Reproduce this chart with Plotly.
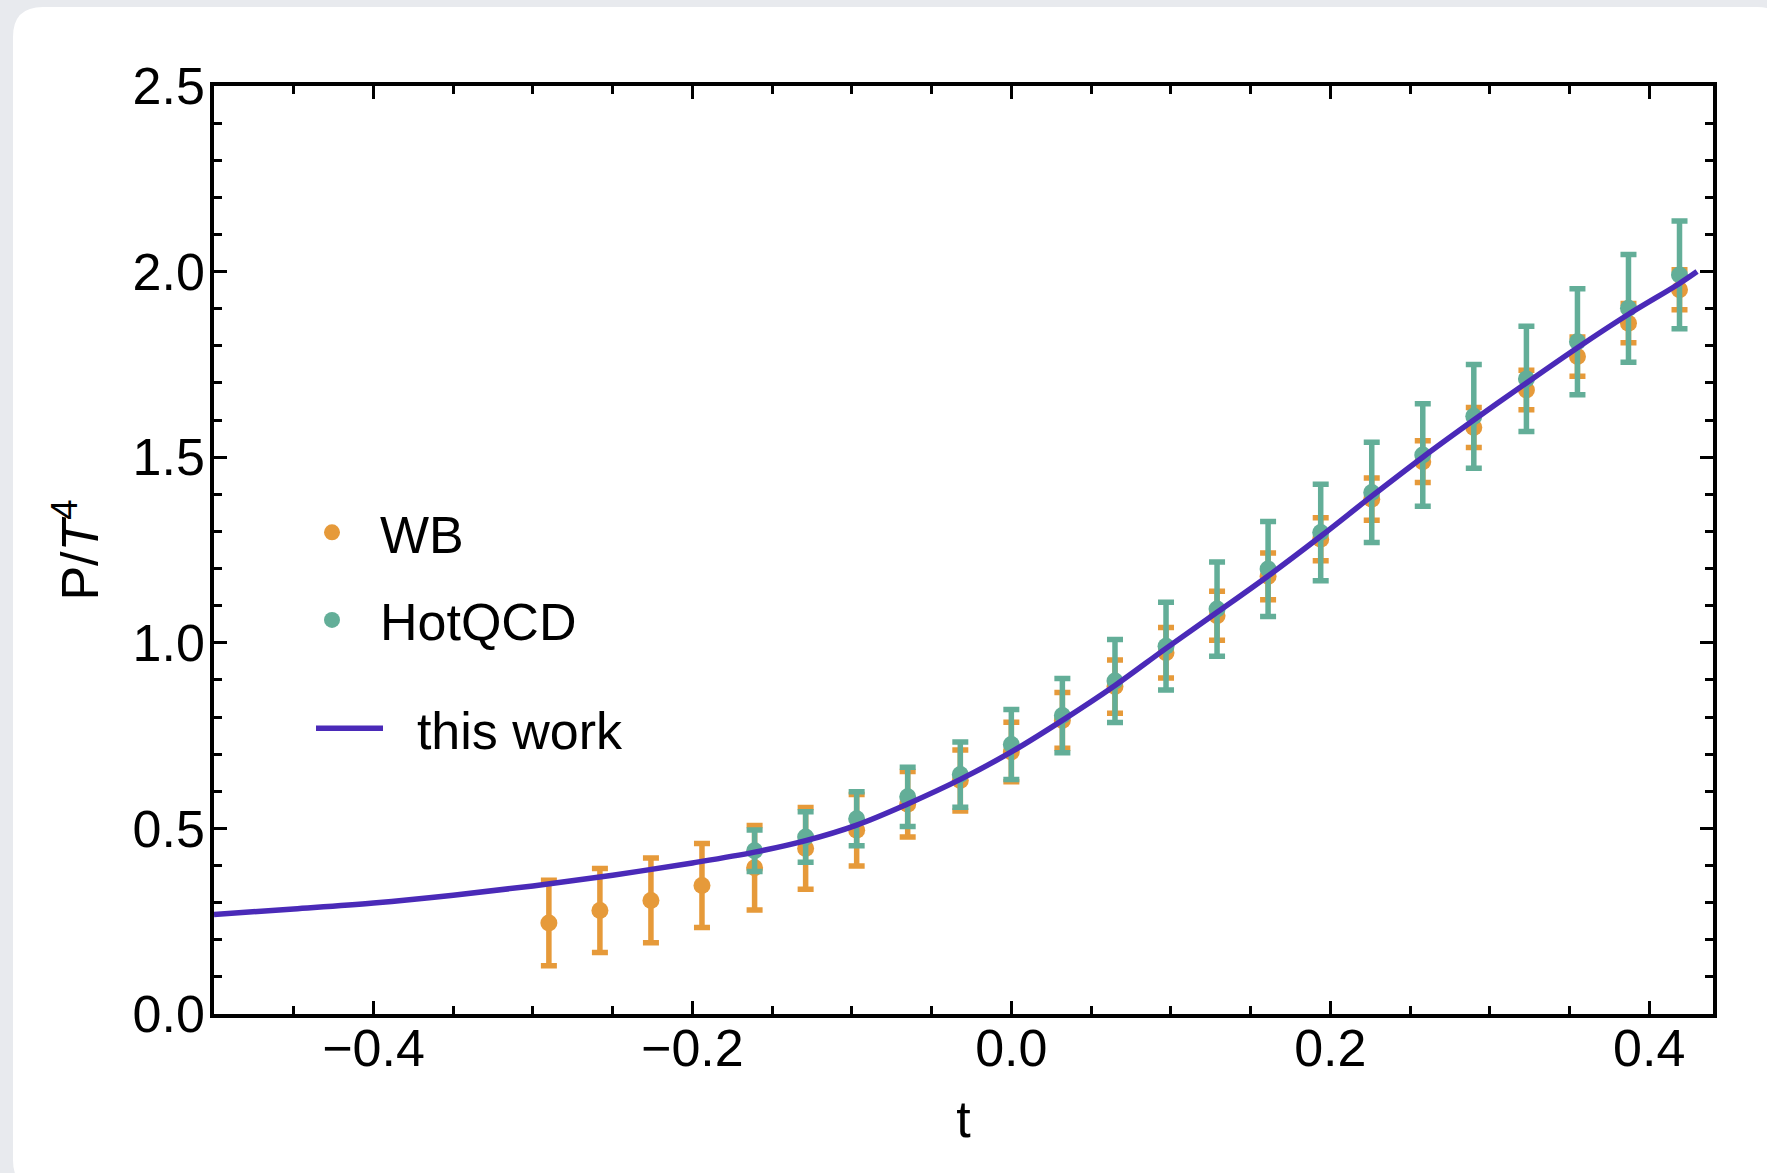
import plotly.graph_objects as go

# ---------------- data ----------------
wb_t = [-0.290, -0.258, -0.226, -0.194, -0.161, -0.129, -0.097, -0.065, -0.032, 0.0,
        0.032, 0.065, 0.097, 0.129, 0.161, 0.194, 0.226, 0.258, 0.290, 0.323,
        0.355, 0.387, 0.419]
wb_p = [0.245, 0.279, 0.306, 0.346, 0.394, 0.446, 0.495, 0.565, 0.629, 0.706,
        0.791, 0.882, 0.973, 1.073, 1.179, 1.279, 1.387, 1.488, 1.580, 1.681,
        1.771, 1.861, 1.951]
wb_err = [0.115, 0.113, 0.114, 0.113, 0.114, 0.110, 0.096, 0.088, 0.082, 0.080,
          0.075, 0.072, 0.068, 0.066, 0.063, 0.058, 0.057, 0.056, 0.054, 0.053,
          0.053, 0.053, 0.054]

hq_t = [-0.161, -0.129, -0.097, -0.065, -0.032, 0.0, 0.032, 0.065, 0.097, 0.129,
        0.161, 0.194, 0.226, 0.258, 0.290, 0.323, 0.355, 0.387, 0.419]
hq_p = [0.440, 0.477, 0.526, 0.585, 0.645, 0.726, 0.804, 0.897, 0.991, 1.091,
        1.199, 1.297, 1.405, 1.506, 1.610, 1.711, 1.811, 1.901, 1.991]
hq_err = [0.056, 0.068, 0.073, 0.080, 0.088, 0.094, 0.100, 0.112, 0.118, 0.127,
          0.128, 0.130, 0.135, 0.138, 0.140, 0.142, 0.143, 0.145, 0.145]

curve_t = [-0.5, -0.45, -0.4, -0.35, -0.3, -0.25, -0.2, -0.161, -0.129, -0.097,
           -0.065, -0.032, 0.0, 0.032, 0.065, 0.097, 0.129, 0.161, 0.194, 0.226,
           0.258, 0.290, 0.323, 0.355, 0.387, 0.419, 0.43]
curve_p = [0.268, 0.283, 0.299, 0.320, 0.345, 0.374, 0.407, 0.436, 0.467, 0.509,
           0.566, 0.632, 0.706, 0.791, 0.885, 0.985, 1.082, 1.180, 1.287, 1.395,
           1.500, 1.600, 1.700, 1.795, 1.885, 1.968, 2.0]

x_range = [-0.5, 0.44]
y_range = [0.0, 2.5]

ORANGE = "#E69A3A"
GREEN = "#63AE98"
PURPLE = "#4A2AB8"
FONT = "Liberation Sans, Arial, Helvetica, sans-serif"

W, H = 1767, 1173
ML, MR, MT, MB = 214, 54, 86, 159
PW = W - ML - MR
PH = H - MT - MB


def px(xp):
    return (xp - ML) / PW


def py(yp):
    return (H - MB - yp) / PH


fig = go.Figure()

fig.add_trace(go.Scatter(
    x=wb_t, y=wb_p, mode="markers", name="WB", legend="legend", legendgroup="a",
    marker=dict(color=ORANGE, size=17),
    error_y=dict(type="data", array=wb_err, color=ORANGE, thickness=5.5, width=8),
))
fig.add_trace(go.Scatter(
    x=hq_t, y=hq_p, mode="markers", name="HotQCD", legend="legend", legendgroup="b",
    marker=dict(color=GREEN, size=17),
    error_y=dict(type="data", array=hq_err, color=GREEN, thickness=5.5, width=8),
))
fig.add_trace(go.Scatter(
    x=curve_t, y=curve_p, mode="lines", name="\u00a0\u00a0this work", legend="legend2",
    legendgroup="c",
    line=dict(color=PURPLE, width=5.5, shape="spline", smoothing=1.0),
))

# white rounded card on light-grey page
L, T, r = 13, 7, 30
RX, BY = 1787, 1190
path = (
    f"M {px(L)},{py(T + r)} "
    f"Q {px(L)},{py(T)} {px(L + r)},{py(T)} "
    f"L {px(RX - r)},{py(T)} "
    f"Q {px(RX)},{py(T)} {px(RX)},{py(T + r)} "
    f"L {px(RX)},{py(BY)} "
    f"L {px(L + r)},{py(BY)} "
    f"Q {px(L)},{py(BY)} {px(L)},{py(BY - r)} Z"
)
fig.add_shape(type="path", path=path, xref="paper", yref="paper",
              fillcolor="white", line=dict(width=0), layer="below")

axis_common = dict(
    showgrid=False, zeroline=False, showline=True, linecolor="black", linewidth=3.5,
    mirror="allticks", ticks="inside", tickcolor="black", tickwidth=3, ticklen=13,
    tickfont=dict(family=FONT, size=52, color="black"),
    automargin=False, tickformat=".1f",
)

fig.update_xaxes(
    range=x_range, dtick=0.2, tick0=0,
    minor=dict(dtick=0.05, ticks="inside", ticklen=8, tickwidth=3, tickcolor="black"),
    title=dict(text="t", font=dict(family=FONT, size=52, color="black"), standoff=25),
    ticklabelstandoff=-14,
    **axis_common,
)
fig.update_yaxes(
    range=y_range, dtick=0.5, tick0=0,
    minor=dict(dtick=0.1, ticks="inside", ticklen=8, tickwidth=3, tickcolor="black"),
    title=dict(text="P/<i>T</i><sup>4</sup>", font=dict(family=FONT, size=52, color="black"),
               standoff=18),
    ticklabelstandoff=-5,
    **axis_common,
)

legend_font = dict(family=FONT, size=52, color="black")
fig.update_layout(
    width=W, height=H,
    margin=dict(l=ML, r=MR, t=MT, b=MB, pad=0),
    paper_bgcolor="#E8EAEE",
    plot_bgcolor="white",
    font=dict(family=FONT, color="black"),
    showlegend=True,
    legend=dict(
        x=px(284), y=py(492), xanchor="left", yanchor="top",
        bgcolor="rgba(0,0,0,0)", borderwidth=0, font=legend_font,
        traceorder="grouped", tracegroupgap=17, itemwidth=86,
    ),
    legend2=dict(
        x=px(311), y=py(688), xanchor="left", yanchor="top",
        bgcolor="rgba(0,0,0,0)", borderwidth=0, font=legend_font,
        itemwidth=67,
    ),
)

fig.write_html("out.html")
